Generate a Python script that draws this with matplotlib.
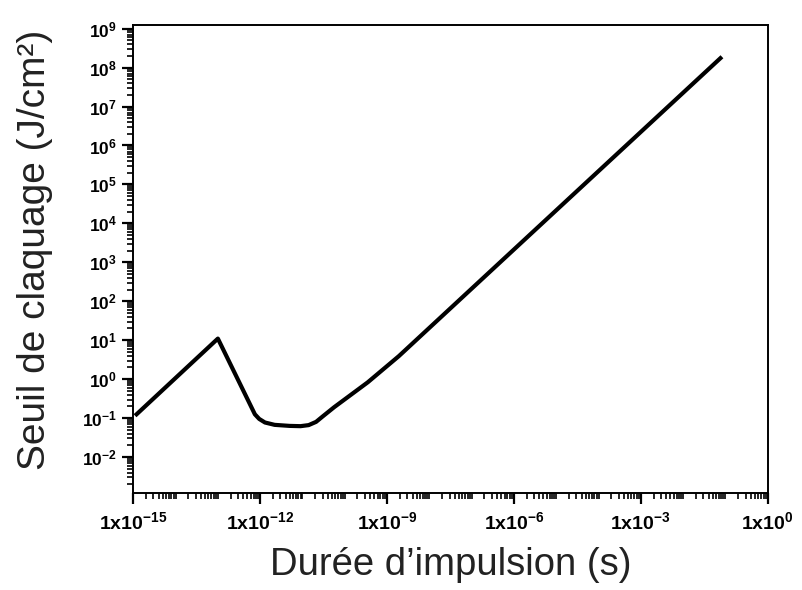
import numpy as np
from matplotlib import pyplot as plt
from matplotlib.ticker import LogLocator, FixedLocator, NullFormatter

plt.rcParams['font.family'] = ['Liberation Sans', 'DejaVu Sans']
plt.rcParams['mathtext.fontset'] = 'custom'
plt.rcParams['mathtext.rm'] = 'Liberation Sans'
plt.rcParams['mathtext.bf'] = 'Liberation Sans:bold'

# durée d'impulsion (s) et seuil de claquage (J/cm2)
duree = [1.1e-15, 1e-13, 7.5e-13, 9.5e-13, 1.3e-12, 2.2e-12, 5e-12, 9e-12,
         1.4e-11, 2.1e-11, 3e-11, 5.6e-11, 3.5e-10, 1.9e-9, 8.3e-2]
seuil = [0.115, 11, 0.125, 0.095, 0.077, 0.067, 0.063, 0.062,
         0.066, 0.08, 0.11, 0.19, 0.83, 3.9, 1.9e8]

x_ticks = [1e-15, 1e-12, 1e-9, 1e-6, 1e-3, 1e0]
x_labels = [r'$\mathbf{1x10^{-15}}$', r'$\mathbf{1x10^{-12}}$', r'$\mathbf{1x10^{-9}}$',
            r'$\mathbf{1x10^{-6}}$', r'$\mathbf{1x10^{-3}}$', r'$\mathbf{1x10^{0}}$']
y_exps = list(range(-2, 10))

fig = plt.figure(figsize=(8.03, 5.90), dpi=100)
ax = fig.add_axes([0.166, 0.164, 0.790, 0.794])

ax.plot(duree, seuil, color='black', lw=3, solid_capstyle='butt', solid_joinstyle='round')

ax.set_xscale('log')
ax.set_yscale('log')
ax.set_xlim(1e-15, 1e0)
ax.set_ylim(10**-2.93, 10**9.1)

ax.xaxis.set_major_locator(FixedLocator(x_ticks))
ax.set_xticklabels(x_labels)
# ticks intermédiaires sur chaque décade de l'axe x
ax.xaxis.set_minor_locator(FixedLocator(
    [m * 10.0**e for e in range(-15, 0) for m in range(1, 10)
     if not (m == 1 and e % 3 == 0)]))
ax.xaxis.set_minor_formatter(NullFormatter())

ax.yaxis.set_major_locator(FixedLocator([10.0**e for e in y_exps]))
ax.set_yticklabels([r'$\mathbf{10^{%d}}$' % e for e in y_exps])
ax.yaxis.set_minor_locator(LogLocator(base=10, subs=np.arange(2, 10), numticks=100))
ax.yaxis.set_minor_formatter(NullFormatter())

ax.tick_params(which='major', direction='out', length=8, width=1.6, pad=4)
ax.tick_params(which='minor', direction='out', length=4, width=1.2)
ax.tick_params(axis='x', which='major', labelsize=14, pad=5)
ax.tick_params(axis='y', which='major', labelsize=12.5)
for s in ax.spines.values():
    s.set_linewidth(1.4)

ax.set_xlabel('Durée d\u2019impulsion (s)', fontsize=27.5, color='#222222')
ax.set_ylabel('Seuil de claquage (J/cm\u00b2)', fontsize=28, color='#222222')
ax.xaxis.set_label_coords(0.5, -0.115)
ax.yaxis.set_label_coords(-0.126, 0.519)

fig.savefig('out.png', dpi=100)
